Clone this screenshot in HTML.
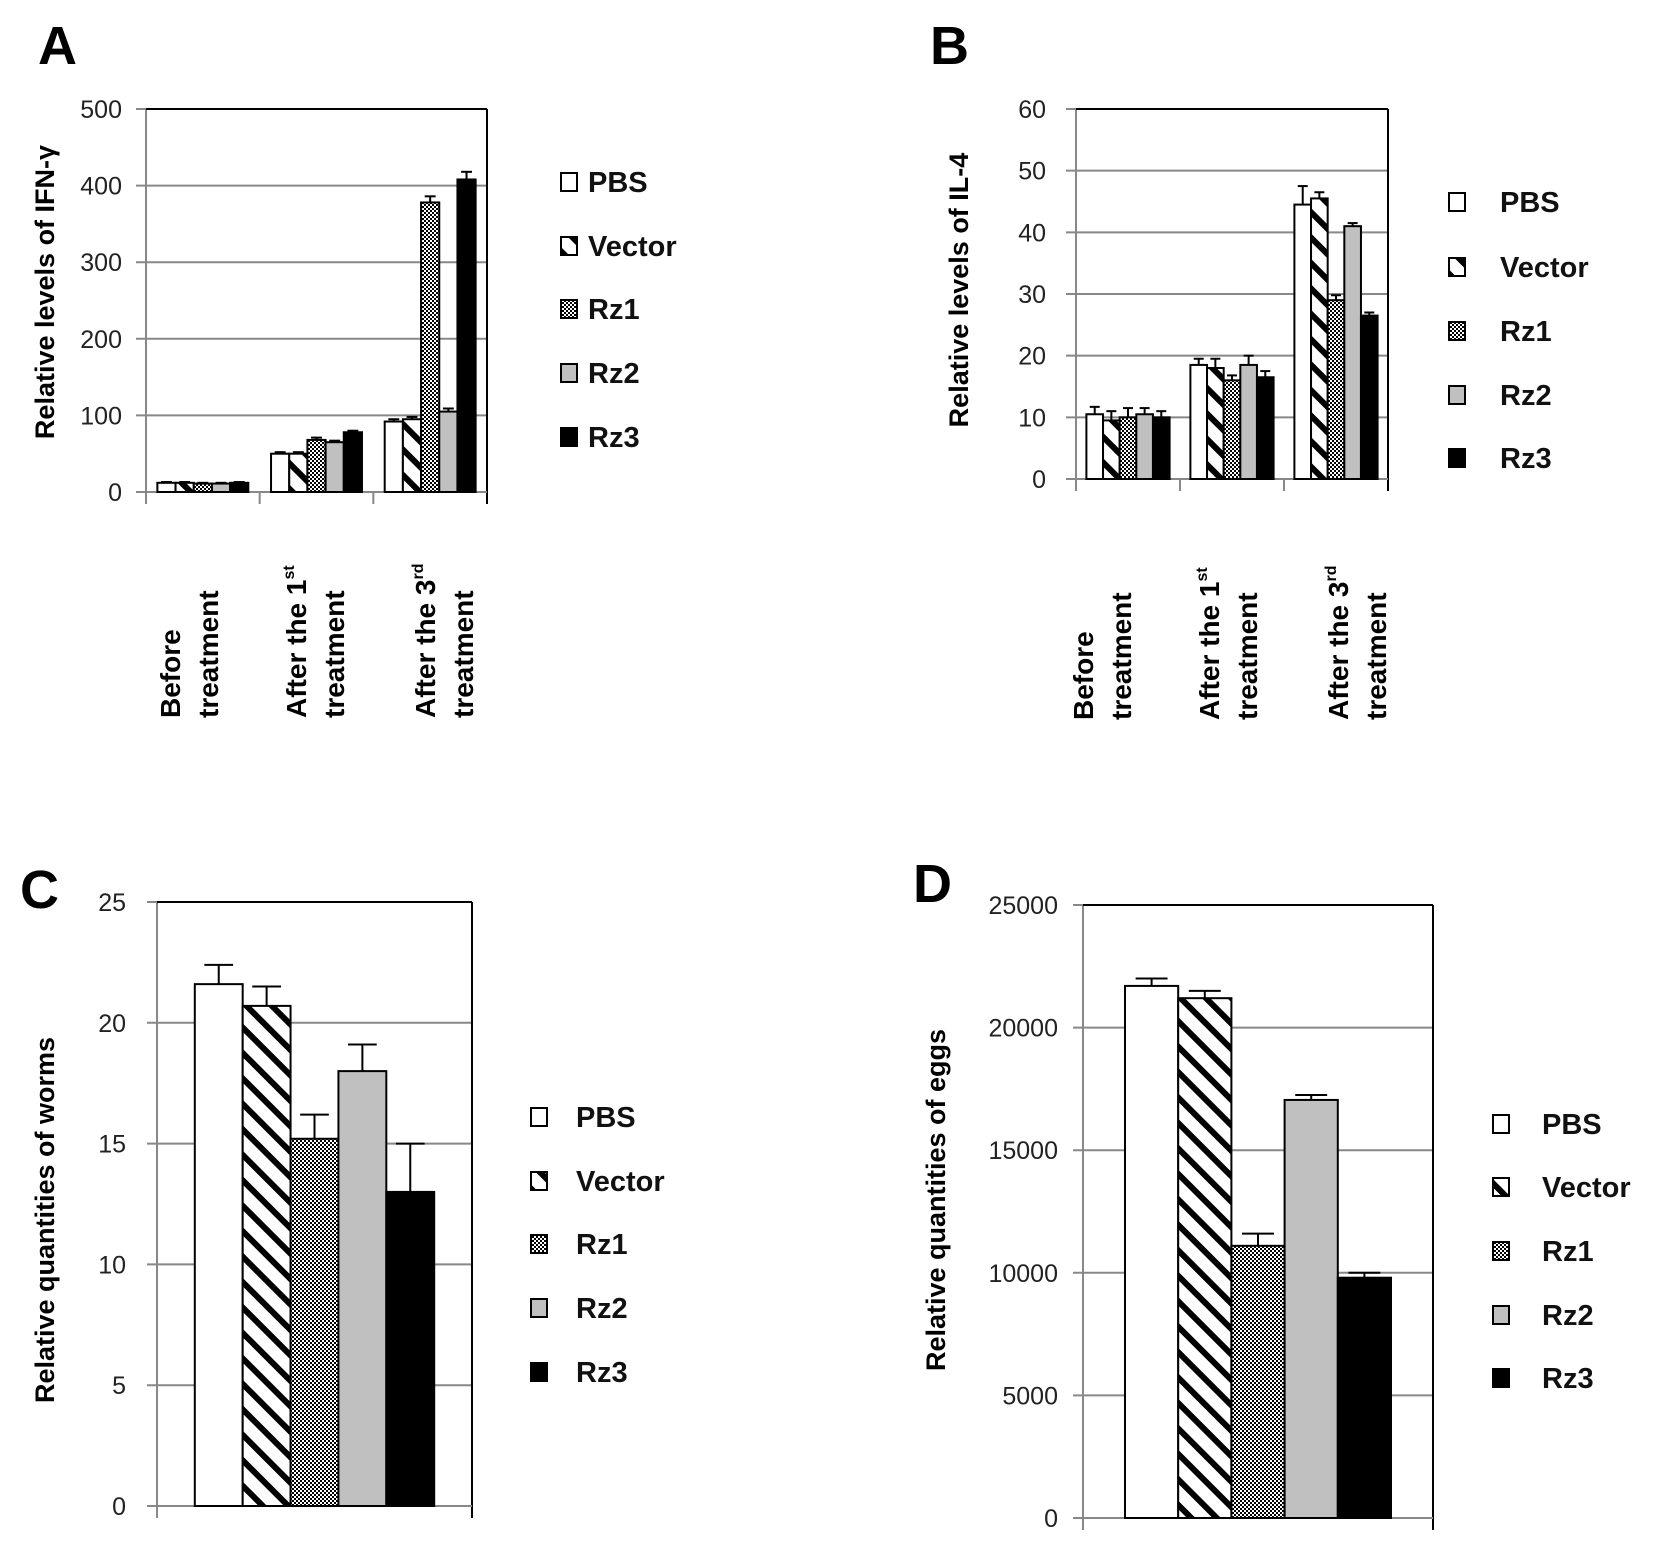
<!DOCTYPE html>
<html><head><meta charset="utf-8"><style>
html,body{margin:0;padding:0;background:#fff}
svg{display:block}
text{font-family:"Liberation Sans",Arial,sans-serif}
</style></head><body>
<svg id="fig" width="1654" height="1544" viewBox="0 0 1654 1544" xmlns="http://www.w3.org/2000/svg">
<defs>
<pattern id="stripes" patternUnits="userSpaceOnUse" width="18" height="18" patternTransform="rotate(-45)">
<rect width="18" height="18" fill="#fff"/><rect x="0" y="0" width="6" height="18" fill="#000"/>
</pattern>
<pattern id="checks" patternUnits="userSpaceOnUse" width="4" height="4">
<rect width="4" height="4" fill="#fff"/><rect width="2" height="2" fill="#000"/><rect x="2" y="2" width="2" height="2" fill="#000"/>
</pattern>
</defs>
<g id="root"></g>
</svg>
<script>
const seriesNames = ["PBS","Vector","Rz1","Rz2","Rz3"];
const fills = ["#fff","url(#stripes)","url(#checks)","#c0c0c0","#000"];

// Panel A
const aCats = [["Before","treatment"],["After the 1","treatment"],["After the 3","treatment"]];
const aSups = ["","st","rd"];
const aPBS = [12,50,92], aVector = [12,50,95], aRz1 = [11,68,378], aRz2 = [11,65,105], aRz3 = [12,78,408];
const aErr = [[1,2,3],[1,2,3],[1,3,8],[1,2,4],[1,2,10]];
const aTicks = [0,100,200,300,400,500];
// Panel B
const bPBS = [10.5,18.5,44.5], bVector = [9.5,18,45.5], bRz1 = [10,16,29], bRz2 = [10.5,18.5,41], bRz3 = [10,16.5,26.5];
const bErr = [[1.2,1,3],[1.5,1.5,1],[1.5,0.8,0.8],[1,1.5,0.5],[1,1,0.5]];
const bTicks = [0,10,20,30,40,50,60];
// Panel C
const cValues = [21.6,20.7,15.2,18,13];
const cErr = [0.8,0.8,1,1.1,2];
const cTicks = [0,5,10,15,20,25];
// Panel D
const dValues = [21700,21200,11100,17050,9800];
const dErr = [300,300,500,200,200];
const dTicks = [0,5000,10000,15000,20000,25000];

const NS="http://www.w3.org/2000/svg";
const root=document.getElementById('root');
function el(tag,attrs,parent,txt){const e=document.createElementNS(NS,tag);for(const k in attrs)e.setAttribute(k,attrs[k]);if(txt!==undefined)e.textContent=txt;(parent||root).appendChild(e);return e;}

function panel(cfg){
  const g=el('g',{});
  
  
  const {x0,x1,y0,y1,ticks}=cfg;
  const max=ticks[ticks.length-1];
  const ys=v=>y1-(v/max)*(y1-y0);
  ticks.forEach(t=>{
    const gl=el('line',{x1:x0-10,x2:x1,y1:ys(t),y2:ys(t),stroke:'#888','stroke-width':2},g);
    
    
    const tl=el('text',{x:cfg.tickX,y:ys(t)+9,'text-anchor':'end','font-size':25,fill:'#222'},g,String(t));
    
    
  });
  el('line',{x1:x0,x2:x0,y1:y0,y2:y1+12,stroke:'#888','stroke-width':2},g);
  el('line',{x1:x0,x2:x1,y1:y0,y2:y0,stroke:'#000','stroke-width':2},g);
  el('line',{x1:x1,x2:x1,y1:y0,y2:y1+12,stroke:'#000','stroke-width':2},g);
  el('line',{x1:x0,x2:x1,y1:y1,y2:y1,stroke:'#888','stroke-width':2},g);
  const nc=cfg.series[0].length;
  const cw=(x1-x0)/nc;
  for(let c=1;c<nc;c++){el('line',{x1:x0+c*cw,x2:x0+c*cw,y1:y1,y2:y1+12,stroke:'#888','stroke-width':2},g);}
  const bw=cw*cfg.frac/5;
  for(let c=0;c<nc;c++){
    const start=x0+c*cw+(cw-bw*5)/2;
    for(let s=0;s<5;s++){
      const v=cfg.series[s][c], e=cfg.err[s][c];
      const bx=start+s*bw;
      const eb=el('line',{x1:bx+bw/2,x2:bx+bw/2,y1:ys(v),y2:ys(v+e),stroke:'#000','stroke-width':2},g);
      
      
      el('line',{x1:bx+bw/2-bw*0.3,x2:bx+bw/2+bw*0.3,y1:ys(v+e),y2:ys(v+e),stroke:'#000','stroke-width':2},g);
      const r=el('rect',{x:bx,y:ys(v),width:bw,height:y1-ys(v),fill:fills[s],stroke:'#000','stroke-width':2},g);
      
      
    }
    if(cfg.cats){
      const lines=cfg.cats[c];
      lines.forEach((ln,i)=>{
        const lx=cfg.catX[c]+i*38;
        const t=el('text',{x:0,y:0,'font-size':28,'font-weight':'bold','text-anchor':'start',transform:`translate(${lx},${cfg.catY}) rotate(-90)`},g,ln);
        if(i===0&&cfg.sups[c]){el('tspan',{'font-size':16,dy:-12},t,cfg.sups[c]);}
        
        
      });
    }
  }
  const yt=el('text',{x:0,y:0,'font-size':27,'font-weight':'bold','text-anchor':'middle',transform:`translate(${cfg.titleX},${cfg.titleY}) rotate(-90)`},g,cfg.title);
  
  
  seriesNames.forEach((n,i)=>{
    const ly=cfg.legY[i];
    const sw=el('rect',{x:cfg.legX,y:ly-9,width:16,height:18,fill:fills[i],stroke:'#000','stroke-width':2},g);
    
    
    const lt=el('text',{x:cfg.legTX,y:ly+10,'font-size':29,'font-weight':'bold',fill:'#111'},g,n);
    
    
  });
  const pl=el('text',{x:cfg.letterX,y:cfg.letterY,'font-size':54,'font-weight':'bold'},g,cfg.letter);
  
  
}

panel({name:'panel-a',letter:'A',letterX:38,letterY:64,x0:146,x1:487,y0:109,y1:492,ticks:aTicks,
  series:[aPBS,aVector,aRz1,aRz2,aRz3],err:aErr,frac:0.8,cats:aCats,sups:aSups,catY:718,catX:[180,306,435],
  tickX:122,title:'Relative levels of IFN-γ',titleX:54,titleY:292,legX:561,legTX:588,legY:[182,246,309,373,437]});
panel({name:'panel-b',letter:'B',letterX:930,letterY:64,x0:1076,x1:1388,y0:109,y1:479,ticks:bTicks,
  series:[bPBS,bVector,bRz1,bRz2,bRz3],err:bErr,frac:0.8,cats:aCats,sups:aSups,catY:720,catX:[1093,1219,1348],
  tickX:1046,title:'Relative levels of IL-4',titleX:968,titleY:290,legX:1449,legTX:1500,legY:[202,267,331,395,458]});
panel({name:'panel-c',letter:'C',letterX:20,letterY:908,x0:157,x1:472,y0:902,y1:1506,ticks:cTicks,
  series:cValues.map(v=>[v]),err:cErr.map(v=>[v]),frac:0.76,
  tickX:126,title:'Relative quantities of worms',titleX:54,titleY:1220,legX:531,legTX:576,legY:[1117,1181,1244,1308,1372]});
panel({name:'panel-d',letter:'D',letterX:913,letterY:902,x0:1083,x1:1433,y0:905,y1:1518,ticks:dTicks,
  series:dValues.map(v=>[v]),err:dErr.map(v=>[v]),frac:0.76,
  tickX:1058,title:'Relative quantities of eggs',titleX:945,titleY:1200,legX:1493,legTX:1542,legY:[1124,1187,1251,1315,1378]});
</script>
</body></html>
